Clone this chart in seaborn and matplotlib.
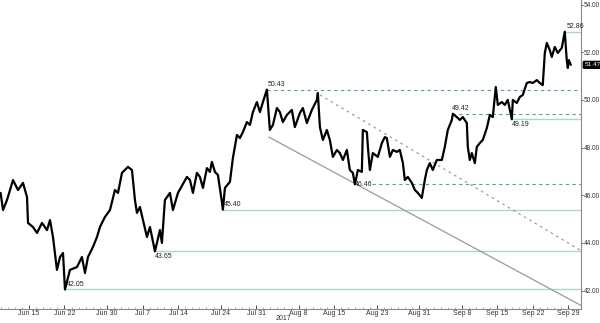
import numpy as np
import pandas as pd
import matplotlib
matplotlib.use("Agg")
import matplotlib.pyplot as plt
import seaborn as sns
from matplotlib.transforms import blended_transform_factory

# ---- data (trading-day index from Jun 9 2017, price) ----
t_days = [0.0, 0.34, 0.90, 1.75, 2.45, 3.15, 3.72, 3.86, 4.56, 5.13, 5.83, 6.54, 6.96, 7.38, 7.94,
          8.37, 8.79, 9.07, 9.77, 10.76, 11.46, 11.89, 12.31, 13.01, 13.58, 14.00, 14.70, 15.41,
          16.11, 16.54, 17.10, 17.94, 18.51, 18.93, 19.21, 19.63, 20.62, 21.04, 21.75, 22.45,
          22.73, 23.15, 23.86, 24.28, 24.99, 26.25, 26.68, 27.10, 27.66, 28.08, 28.51, 29.07,
          29.49, 29.77, 30.20, 30.62, 31.18, 31.32, 31.61, 32.31, 32.73, 33.30, 33.72, 34.14,
          34.70, 35.13, 35.55, 36.11, 36.54, 36.96, 37.52, 37.94, 38.37, 38.93, 39.35, 39.77,
          40.34, 41.04, 41.46, 42.17, 42.59, 43.15, 43.86, 44.56, 44.70, 44.99, 45.41, 45.97,
          46.39, 46.82, 47.38, 47.80, 48.23, 48.79, 49.21, 49.63, 49.92, 50.34, 50.90, 51.04,
          51.61, 51.75, 52.03, 52.45, 53.15, 53.72, 54.14, 54.42, 54.85, 55.27, 55.83, 56.25,
          56.68, 56.96, 57.38, 57.94, 58.37, 58.79, 59.35, 59.77, 60.06, 60.48, 60.90, 61.46,
          62.17, 62.59, 63.01, 63.58, 63.72, 64.28, 64.70, 65.13, 65.69, 65.83, 66.11, 66.39,
          66.82, 67.10, 67.52, 67.94, 68.51, 68.93, 69.35, 69.77, 70.06, 70.62, 71.04, 71.46,
          72.03, 72.17, 72.73, 73.15, 73.58, 74.14, 74.56, 74.99, 75.55, 75.97, 76.39, 76.68,
          76.96, 77.38, 77.66, 78.08, 78.51, 79.07, 79.49, 79.77, 79.92, 80.06, 80.34]
price = [46.10, 45.38, 45.80, 46.64, 46.22, 46.52, 45.93, 44.84, 44.67, 44.42, 44.84, 44.54, 44.96,
         44.25, 42.87, 43.41, 43.58, 42.05, 42.87, 42.99, 43.41, 42.74, 43.41, 43.83, 44.25, 44.67,
         45.09, 45.38, 46.22, 46.10, 46.94, 47.19, 47.06, 45.80, 45.26, 45.51, 44.25, 44.67, 43.65,
         44.54, 44.00, 45.80, 46.10, 45.38, 46.10, 46.77, 46.64, 46.10, 46.94, 46.77, 46.31, 47.14,
         46.98, 47.40, 46.98, 46.85, 45.72, 45.40, 46.31, 46.56, 47.56, 48.53, 48.40, 48.65, 49.07,
         48.95, 49.49, 49.91, 49.49, 49.91, 50.43, 48.74, 48.95, 49.66, 49.49, 49.07, 49.37, 49.58,
         48.86, 49.45, 49.66, 49.03, 49.58, 50.00, 50.29, 48.86, 48.32, 48.74, 48.32, 47.61, 47.90,
         47.77, 47.48, 47.90, 47.06, 46.94, 46.46, 47.06, 46.98, 48.74, 48.65, 48.03, 47.06, 47.77,
         47.61, 48.19, 48.44, 48.40, 47.61, 47.90, 47.82, 47.90, 47.35, 46.64, 46.77, 46.52, 46.22,
         46.10, 45.89, 46.64, 47.06, 47.35, 47.06, 47.48, 47.48, 48.03, 48.74, 49.16, 49.42, 49.28,
         49.16, 49.28, 49.03, 48.03, 47.48, 47.77, 47.35, 48.03, 48.19, 48.32, 48.82, 49.37, 49.28,
         50.54, 49.79, 49.91, 49.79, 50.00, 49.19, 50.00, 49.87, 50.12, 50.21, 50.71, 50.75, 50.71,
         50.83, 50.71, 50.62, 51.97, 52.39, 52.09, 51.80, 52.22, 51.97, 52.18, 52.86, 51.67, 51.34,
         51.67, 51.47]

tick_days = [4, 9, 15, 20, 25, 31, 36, 42, 47, 53, 59, 65, 70, 75, 80]
tick_labels = ["Jun 15", "Jun 22", "Jun 30", "Jul 7", "Jul 14", "Jul 24", "Jul 31", "Aug 8",
               "Aug 15", "Aug 23", "Aug 31", "Sep 8", "Sep 15", "Sep 22", "Sep 29"]
y_ticks = [42, 44, 46, 48, 50, 52, 54]
year_label = "2017"
year_day = 39.8

dashed_levels = [50.43, 49.42, 46.46]
dashed_start = [37.5, 63.6, 52.3]
dashed_label_x = [37.6, 63.6, 49.9]
dashed_label_va = ["bottom", "bottom", "center"]

solid_levels = [52.86, 49.19, 45.40, 43.65, 42.05]
solid_start = [79.5, 71.8, 31.2, 21.5, 9.1]
solid_label_va = ["bottom", "top", "bottom", "top", "bottom"]

last_price = 51.47
trend_solid_x = [37.8, 81.9]
trend_solid_y = [48.44, 41.36]
trend_dashed_x = [45.0, 81.6]
trend_dashed_y = [50.21, 43.71]

# ---- figure ----
sns.set_style("white")
plt.rcParams["font.family"] = ["Liberation Sans", "DejaVu Sans"]
fig = plt.figure(figsize=(6.0, 3.23), dpi=100)
ax = fig.add_axes([0.0, 0.0433, 0.968, 0.9567])

XMAX = 81.75
ax.set_xlim(-0.085, XMAX)
ax.set_ylim(41.23, 54.19)

teal = "#a9d8cc"
green = "#4fa97c"
grey = "#9a9a9a"

for lvl, s in zip(solid_levels, solid_start):
    ax.hlines(lvl, s, XMAX, color=teal, lw=1.0, zorder=1)
for lvl, s in zip(dashed_levels, dashed_start):
    ax.hlines(lvl, s, XMAX, color=green, lw=0.8, linestyles=(0, (3, 3)), zorder=1)

ax.plot(trend_solid_x, trend_solid_y, color=grey, lw=0.9, zorder=1)
ax.plot(trend_dashed_x, trend_dashed_y, color=grey, lw=0.9, ls=(0, (2, 3)), zorder=1)

df = pd.DataFrame({"t": t_days, "p": price})
sns.lineplot(data=df, x="t", y="p", sort=False, color="black", lw=1.6, ax=ax, zorder=3)

fs = 5.0
for lvl, lx, va in zip(dashed_levels, dashed_label_x, dashed_label_va):
    dy = 0.06 if va == "bottom" else 0
    ax.text(lx, lvl + dy, f"{lvl:.2f}", fontsize=fs, ha="left", va=va, color="#222222", zorder=4)
for lvl, s, va in zip(solid_levels, solid_start, solid_label_va):
    dy = 0.06 if va == "bottom" else -0.08
    ax.text(s + 0.2, lvl + dy, f"{lvl:.2f}", fontsize=fs, ha="left", va=va, color="#222222", zorder=4)

# axes styling
ax.set_xlabel("")
ax.set_ylabel("")
for sp in ["top", "left"]:
    ax.spines[sp].set_visible(False)
for sp in ["right", "bottom"]:
    ax.spines[sp].set_color("#8a8a8a")
    ax.spines[sp].set_linewidth(0.8)

ax.yaxis.tick_right()
ax.set_yticks(y_ticks)
ax.set_yticklabels([f"{v:.2f}" for v in y_ticks])
ax.tick_params(axis="y", which="major", direction="out", length=1.5, width=0.6, pad=0.5,
               labelsize=4.7, colors="#333333", right=True, left=False)
ax.set_xticks(tick_days)
ax.set_xticklabels(tick_labels)
ax.set_xticks(np.arange(0, 81, 1), minor=True)
ax.tick_params(axis="x", which="major", direction="in", length=3, width=0.6, pad=1.0,
               labelsize=fs, colors="#333333", bottom=True)
ax.tick_params(axis="x", which="minor", direction="in", length=1.5, width=0.5, bottom=True,
               colors="#8a8a8a")

tr = blended_transform_factory(ax.transData, fig.transFigure)
ax.text(year_day, 0.003, year_label, transform=tr, fontsize=fs, ha="center", va="bottom",
        color="#333333")

ax.text(1.006, last_price, f"{last_price:.2f}",
        transform=blended_transform_factory(ax.transAxes, ax.transData),
        fontsize=4.6, ha="left", va="center", color="white", zorder=5,
        bbox=dict(boxstyle="round,pad=0.15", fc="black", ec="black"))

fig.savefig("out.png", dpi=100)
